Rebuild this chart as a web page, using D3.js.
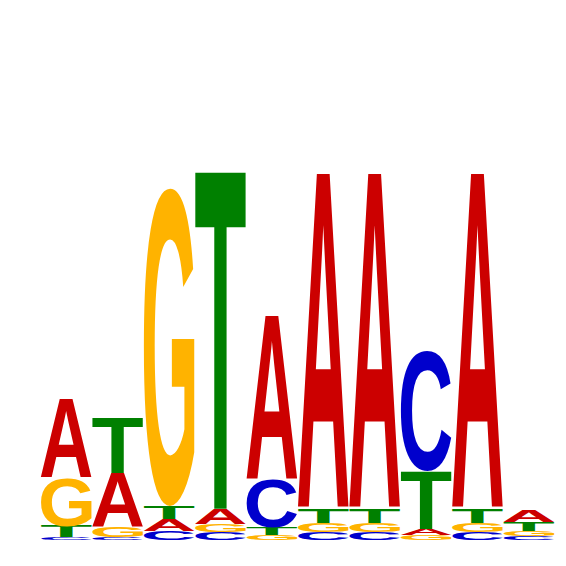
<!DOCTYPE html>
<html>
<head>
<meta charset="utf-8">
<script src="https://cdn.jsdelivr.net/npm/d3@7"></script>
<style>
  html, body { margin: 0; padding: 0; background: #fff; }
</style>
</head>
<body>
<svg id="logo" width="566" height="566"></svg>
<script>
// information content (bits) per letter at each motif position
const positions = [1, 2, 3, 4, 5, 6, 7, 8, 9, 10];
const A = [0.395, 0.270, 0.060, 0.075, 0.820, 1.680, 1.680, 0.030, 1.680, 0.060];
const C = [0.013, 0.015, 0.045, 0.040, 0.245, 0.040, 0.040, 0.600, 0.040, 0.020];
const G = [0.245, 0.050, 1.590, 0.041, 0.025, 0.045, 0.045, 0.025, 0.045, 0.025];
const T = [0.055, 0.275, 0.065, 1.685, 0.035, 0.070, 0.070, 0.290, 0.070, 0.045];

const letters = ["A", "C", "G", "T"];
const colors = { A: "#CC0000", C: "#0000CC", G: "#FFB300", T: "#008000" };
const series = { A, C, G, T };

const svg = d3.select("#logo");

const x = d3.scaleBand()
  .domain(positions)
  .range([41, 554])
  .paddingInner(0.02);

const y = d3.scaleLinear()
  .domain([0, 2])
  .range([540, 140]);

// find the real ink box of each glyph by drawing it on a canvas and scanning pixels
const fontSize = 200;
const fontSpec = `bold ${fontSize}px 'Liberation Sans', Arial, sans-serif`;
const cv = document.createElement("canvas");
cv.width = 400; cv.height = 400;
const ctx = cv.getContext("2d");
const glyph = {};
letters.forEach(l => {
  ctx.clearRect(0, 0, cv.width, cv.height);
  ctx.font = fontSpec;
  ctx.fillStyle = "#000";
  ctx.textBaseline = "alphabetic";
  const ox = 100, oy = 300;
  ctx.fillText(l, ox, oy);
  const px = ctx.getImageData(0, 0, cv.width, cv.height).data;
  let x0 = Infinity, x1 = -Infinity, y0 = Infinity, y1 = -Infinity;
  for (let j = 0; j < cv.height; j++) {
    for (let i = 0; i < cv.width; i++) {
      if (px[(j * cv.width + i) * 4 + 3] > 100) {
        if (i < x0) x0 = i;
        if (i > x1) x1 = i;
        if (j < y0) y0 = j;
        if (j > y1) y1 = j;
      }
    }
  }
  glyph[l] = { left: ox - x0, right: x1 + 1 - ox, asc: oy - y0, desc: y1 + 1 - oy };
});

// build stacks: smallest at the bottom, largest on top
const stacks = positions.map((p, i) => {
  const col = letters.map(l => ({ letter: l, bits: series[l][i] }))
    .sort((a, b) => a.bits - b.bits);
  let acc = 0;
  col.forEach(d => { d.y0 = acc; acc += d.bits; d.y1 = acc; d.pos = p; });
  return col;
});

svg.append("g")
  .selectAll("g.col")
  .data(stacks)
  .join("g")
  .attr("class", "col")
  .selectAll("text")
  .data(d => d)
  .join("text")
  .text(d => d.letter)
  .attr("fill", d => colors[d.letter])
  .style("font", fontSpec)
  .attr("transform", d => {
    const gm = glyph[d.letter];
    const w = x.bandwidth();
    const top = y(d.y1);
    const h = y(d.y0) - y(d.y1);
    const sx = w / (gm.left + gm.right);
    const sy = h / (gm.asc + gm.desc);
    return `translate(${x(d.pos)},${top}) scale(${sx},${sy}) translate(${gm.left},${gm.asc})`;
  });
</script>
</body>
</html>
